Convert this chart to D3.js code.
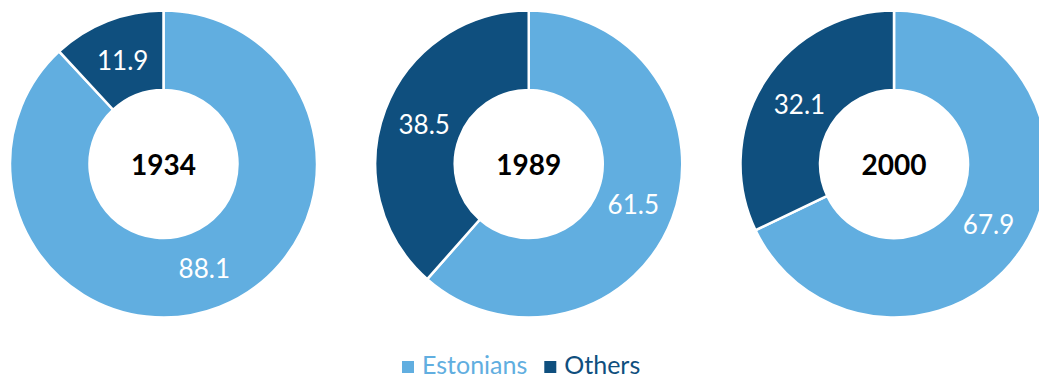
<!DOCTYPE html>
<html>
<head>
<meta charset="utf-8">
<script src="https://cdn.jsdelivr.net/npm/d3@7"></script>
<style>
  html, body { margin: 0; padding: 0; background: #ffffff; overflow: hidden; }
  svg { display: block; }
  text { font-family: Lato, "Open Sans", sans-serif; }
</style>
</head>
<body>
<svg id="chart" width="1039" height="381"></svg>
<script>
// Population share by nationality (%)
const years = ["1934", "1989", "2000"];
const groups = ["Estonians", "Others"];
const estonians = [88.1, 61.5, 67.9];
const others = [11.9, 38.5, 32.1];

const colors = ["#61aee0", "#0f4f7e"];

const width = 1039, height = 381;
const outerR = 153.5, innerR = 74;
const cy = 164;

const svg = d3.select("#chart");

const color = d3.scaleOrdinal().domain(groups).range(colors);
const cx = d3.scalePoint().domain(years).range([163.5, 894]);

const pie = d3.pie().sort(null).value(d => d.value);
const arc = d3.arc().innerRadius(innerR).outerRadius(outerR);
const labelR = (innerR + outerR) / 2 - 2;
const labelArc = d3.arc().innerRadius(labelR).outerRadius(labelR);

years.forEach((year, i) => {
  const data = [
    { group: groups[0], value: estonians[i] },
    { group: groups[1], value: others[i] }
  ];
  const g = svg.append("g").attr("transform", `translate(${cx(year)},${cy})`);
  const slices = pie(data);

  g.selectAll("path.slice")
    .data(slices)
    .join("path")
    .attr("class", "slice")
    .attr("d", arc)
    .attr("fill", d => color(d.data.group))
    .attr("stroke", "#ffffff")
    .attr("stroke-width", 2.5)
    .attr("stroke-linejoin", "miter");

  g.selectAll("text.val")
    .data(slices)
    .join("text")
    .attr("class", "val")
    .attr("transform", d => `translate(${labelArc.centroid(d)})`)
    .attr("text-anchor", "middle")
    .attr("dominant-baseline", "central")
    .attr("fill", "#ffffff")
    .attr("font-size", 26)
    .text(d => d.data.value.toFixed(1));

  g.append("text")
    .attr("text-anchor", "middle")
    .attr("dominant-baseline", "central")
    .attr("fill", "#000000")
    .attr("font-weight", "bold")
    .attr("font-size", 28)
    .text(year);
});

// Legend
const legend = svg.append("g").attr("transform", "translate(402,374)");
let x = 0;
groups.forEach(grp => {
  const item = legend.append("g").attr("transform", `translate(${x},0)`);
  item.append("rect")
    .attr("x", 0).attr("y", -13)
    .attr("width", 12).attr("height", 12)
    .attr("fill", color(grp));
  const t = item.append("text")
    .attr("x", 20)
    .attr("y", 0)
    .attr("fill", color(grp))
    .attr("font-size", 25)
    .text(grp);
  x += 20 + t.node().getComputedTextLength() + 17;
});
</script>
</body>
</html>
